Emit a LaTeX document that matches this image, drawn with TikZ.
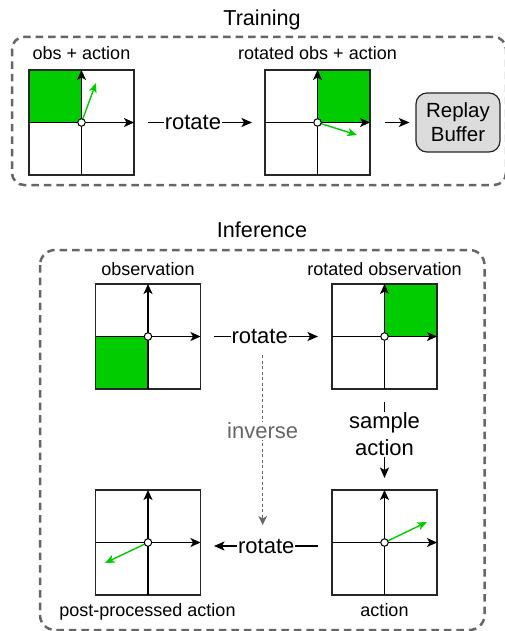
\documentclass[tikz,border=0pt]{standalone}
\usepackage{fontspec}
\setmainfont{Liberation Sans}
\usetikzlibrary{arrows.meta,calc}
\definecolor{actgreen}{HTML}{00CC00}
\definecolor{framegray}{HTML}{666666}
\definecolor{bufgray}{HTML}{DCDCDC}
\newcommand\drawpanel[1]{%
  \draw[border] (#1.north west) rectangle (#1.south east);
  \draw[axis] (#1.south) -- (#1.north);
  \draw[axis] (#1.west) -- (#1.east);
}
\tikzset{
  panel/.style={minimum size=105pt, inner sep=0pt, outer sep=0pt},
  border/.style={draw=black!85, line width=1.2pt},
  axis/.style={line width=1.3pt, -{Stealth[length=10pt,width=9pt,inset=2.5pt]}},
  act/.style={draw=actgreen, line width=1.4pt, -{Stealth[length=9.5pt,width=8pt,inset=2.2pt]}},
  origin/.style={circle, draw=black, fill=white, line width=1pt, minimum size=7.5pt, inner sep=0pt},
  flow/.style={line width=1.3pt, -{Stealth[length=10.5pt,width=9pt,inset=2.5pt]}},
  frame/.style={draw=framegray, line width=2.5pt, dash pattern=on 7.5pt off 5pt},
  lbl/.style={font=\fontsize{18}{21}\selectfont, anchor=base},
  ttl/.style={font=\fontsize{21.6}{26}\selectfont, anchor=base},
  big/.style={font=\fontsize{22}{27}\selectfont, inner sep=1pt, fill=white},
}
\begin{document}
\begin{tikzpicture}[x=1pt,y=-1pt]
\useasboundingbox (0,0) rectangle (505,631);
\fill[white] (0,0) rectangle (505,631);

% ---------------- Training ----------------
\node[ttl] (ttrain) at (262,25.7) {Training};
\draw[frame, rounded corners=12pt] (12,37) rectangle (506,185);

\node[panel] (p1) at (81.5,122.5) {};
\node[panel] (p2) at (317.5,122.5) {};
\fill[actgreen] (p1.center) rectangle (p1.north west);
\fill[actgreen] (p2.center) rectangle (p2.north east);
\drawpanel{p1}
\drawpanel{p2}
\draw[act] (p1.center) -- ++(14.5,-39.5);
\draw[act] (p2.center) -- ++(39.5,12.5);
\node[origin] (o1) at (p1.center) {};
\node[origin] (o2) at (p2.center) {};
\node[lbl] (l1) at (81.5,59.3) {obs + action};
\node[lbl] (l2) at (317.5,59.3) {rotated obs + action};

\node[draw=black!85, line width=1.2pt, fill=bufgray, rounded corners=11pt,
      minimum width=84pt, minimum height=59pt, inner sep=0pt, align=center,
      font=\fontsize{20.5}{24}\selectfont] (rb) at (458,122.5) {Replay\\Buffer};

\draw[flow, shorten <=14pt, shorten >=13pt] (p1) -- node[big, pos=0.45] (r1) {rotate} (p2);
\draw[flow, shorten <=15pt, shorten >=6pt] (p2) -- (rb);

% ---------------- Inference ----------------
\node[ttl] (tinf) at (262,237.7) {Inference};
\draw[frame, rounded corners=15pt] (40,250) rectangle (484.5,630);

\node[panel] (p3) at (148,336.5) {};
\node[panel] (p4) at (384.5,336.5) {};
\node[panel] (p5) at (148,542.5) {};
\node[panel] (p6) at (384.5,542.5) {};
\fill[actgreen] (p3.center) rectangle (p3.south west);
\fill[actgreen] (p4.center) rectangle (p4.north east);
\drawpanel{p3}
\drawpanel{p4}
\drawpanel{p5}
\drawpanel{p6}
\draw[act] (p6.center) -- ++(42.5,-20.5);
\draw[act] (p5.center) -- ++(-43,20.5);
\node[origin] (o3) at (p3.center) {};
\node[origin] (o4) at (p4.center) {};
\node[origin] (o5) at (p5.center) {};
\node[origin] (o6) at (p6.center) {};

\node[lbl] (l3) at (148,275) {observation};
\node[lbl] (l4) at (384.5,275) {rotated observation};
\node[lbl] (l5) at (147.5,616.5) {post-processed action};
\node[lbl] (l6) at (384.5,616.5) {action};

\draw[flow, shorten <=13.5pt, shorten >=14pt] (p3) -- node[big, pos=0.45] (r2) {rotate} (p4);
\draw[flow, shorten <=14pt, shorten >=13.5pt] ([yshift=-3.5pt]p6.west) -- node[big, pos=0.5] (r3) {rotate} ([yshift=-3.5pt]p5.east);
\draw[flow, shorten <=13pt, shorten >=12pt] (p4) -- node[big, align=center, pos=0.5, yshift=5pt] (sa) {sample\\action} (p6);

\draw[draw=framegray, line width=1.4pt, dash pattern=on 3pt off 2.5pt,
      -{Stealth[length=9pt,width=8.5pt,inset=2.5pt]}, shorten <=18.5pt, shorten >=21pt]
  (r2.center -| 262.7,0) -- node[big, text=framegray, pos=0.45] (inv) {inverse} (262.7,546);
\end{tikzpicture}
\end{document}
